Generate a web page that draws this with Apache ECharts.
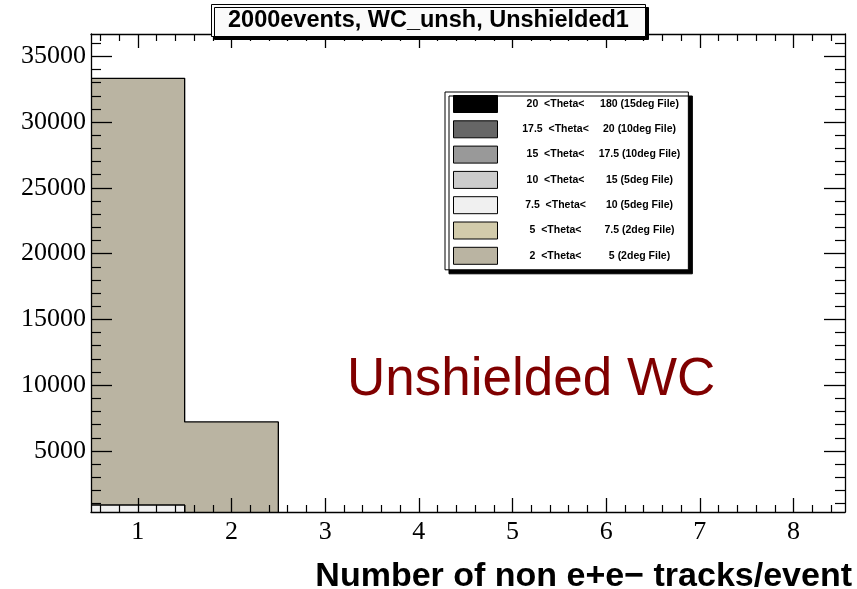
<!DOCTYPE html>
<html>
<head>
<meta charset="utf-8">
<title>2000events, WC_unsh, Unshielded1</title>
<script src="https://cdn.jsdelivr.net/npm/echarts@6/dist/echarts.min.js"></script>
<style>
  html, body { margin: 0; padding: 0; background: #ffffff; }
  #chart { width: 857px; height: 589px; }
</style>
</head>
<body>
<div id="chart"></div>
<script>
// Track multiplicity per event, stacked by polar-angle range.
// Bin centres (bins are one unit wide).
const binCenters = [1, 2, 3, 4, 5, 6, 7, 8];

// Per-range contents, listed in stacking order from bottom to top.
const theta20to180 = [0, 0, 0, 0, 0, 0, 0, 0];
const theta17p5to20 = [0, 0, 0, 0, 0, 0, 0, 0];
const theta15to17p5 = [0, 0, 0, 0, 0, 0, 0, 0];
const theta10to15 = [0, 0, 0, 0, 0, 0, 0, 0];
const theta7p5to10 = [890, 0, 0, 0, 0, 0, 0, 0];
const theta5to7p5 = [0, 0, 0, 0, 0, 0, 0, 0];
const theta2to5 = [32440, 7210, 0, 0, 0, 0, 0, 0];

// Legend texts (angle range, source file)
const rangeLabels = ['20  <Theta<', '17.5  <Theta<', '15  <Theta<', '10  <Theta<', '7.5  <Theta<', '5  <Theta<', '2  <Theta<'];
const fileLabels = ['180 (15deg File)', '20 (10deg File)', '17.5 (10deg File)', '15 (5deg File)', '10 (5deg File)', '7.5 (2deg File)', '5 (2deg File)'];

// Axis tick positions
const xMajorTicks = [1, 2, 3, 4, 5, 6, 7, 8];
const xMinorTicks = [0.6, 0.8, 1.2, 1.4, 1.6, 1.8, 2.2, 2.4, 2.6, 2.8, 3.2, 3.4, 3.6, 3.8,
  4.2, 4.4, 4.6, 4.8, 5.2, 5.4, 5.6, 5.8, 6.2, 6.4, 6.6, 6.8, 7.2, 7.4, 7.6, 7.8, 8.2, 8.4];
const yMajorTicks = [5000, 10000, 15000, 20000, 25000, 30000, 35000];
const yMinorTicks = [1000, 2000, 3000, 4000, 6000, 7000, 8000, 9000, 11000, 12000, 13000, 14000,
  16000, 17000, 18000, 19000, 21000, 22000, 23000, 24000, 26000, 27000, 28000, 29000,
  31000, 32000, 33000, 34000, 36000];

const layers = [
  { name: rangeLabels[0], file: fileLabels[0], values: theta20to180, color: '#000000' },
  { name: rangeLabels[1], file: fileLabels[1], values: theta17p5to20, color: '#666666' },
  { name: rangeLabels[2], file: fileLabels[2], values: theta15to17p5, color: '#999999' },
  { name: rangeLabels[3], file: fileLabels[3], values: theta10to15, color: '#cccccc' },
  { name: rangeLabels[4], file: fileLabels[4], values: theta7p5to10, color: '#f0f0f0' },
  { name: rangeLabels[5], file: fileLabels[5], values: theta5to7p5, color: '#d2cbab' },
  { name: rangeLabels[6], file: fileLabels[6], values: theta2to5, color: '#bab4a2' }
];

// Cumulative totals: each layer is painted as the sum of itself and everything below it.
const cumulative = [];
layers.forEach(function (layer, i) {
  cumulative.push(layer.values.map(function (v, b) {
    return v + (i > 0 ? cumulative[i - 1][b] : 0);
  }));
});

// Step outline points: [lowEdge, content] for each bin, then the last high edge.
function stepPoints(sums) {
  const pts = binCenters.map(function (c, b) { return [c - 0.5, sums[b]]; });
  const last = binCenters.length - 1;
  pts.push([binCenters[last] + 0.5, sums[last]]);
  return pts;
}

const Y_MIN = 360;
const Y_MAX = 36700;

// Draw the full stack first, then each lower partial sum over it.
const series = [];
for (let i = layers.length - 1; i >= 0; i--) {
  series.push({
    type: 'line',
    name: layers[i].name,
    step: 'end',
    showSymbol: false,
    symbol: 'none',
    clip: true,
    color: layers[i].color,
    itemStyle: { color: layers[i].color },
    lineStyle: { color: '#000', width: 1.3 },
    areaStyle: { color: layers[i].color, opacity: 1 },
    data: stepPoints(cumulative[i]),
    z: 2 + (layers.length - i)
  });
}

const fileByName = {};
layers.forEach(function (l) { fileByName[l.name] = l.file; });

const serifLabel = { fontFamily: 'Liberation Serif', fontSize: 26, color: '#000' };
const frameLine = { show: true, lineStyle: { color: '#000', width: 1.3 } };
const plainNumber = function (v) { return String(v); };
const AXIS_Z = 11;

const option = {
  animation: false,
  backgroundColor: '#ffffff',
  title: {
    text: '2000events, WC_unsh, Unshielded1',
    left: 211,
    top: 5,
    padding: [4, 17, 4, 17],
    backgroundColor: '#fafafa',
    borderColor: '#000',
    borderWidth: 1,
    shadowColor: '#000',
    shadowBlur: 0,
    shadowOffsetX: 3,
    shadowOffsetY: 3,
    textStyle: { fontFamily: 'Liberation Sans', fontWeight: 'bold', fontSize: 23.5, lineHeight: 23, color: '#000' },
    z: 20
  },
  legend: {
    orient: 'vertical',
    left: 445,
    top: 92,
    padding: [3, 8, 5, 8],
    itemWidth: 44,
    itemHeight: 17,
    itemGap: 7.3,
    icon: 'rect',
    itemStyle: { borderColor: '#000', borderWidth: 1 },
    backgroundColor: '#ffffff',
    borderColor: '#000',
    borderWidth: 1,
    shadowColor: '#000',
    shadowBlur: 0,
    shadowOffsetX: 4,
    shadowOffsetY: 4,
    selectedMode: false,
    data: layers.map(function (l) { return { name: l.name, itemStyle: { color: l.color } }; }),
    formatter: function (name) { return '{a|' + name + '}{b|' + fileByName[name] + '}'; },
    textStyle: {
      fontFamily: 'Liberation Sans',
      fontWeight: 'bold',
      fontSize: 10.5,
      color: '#000',
      rich: {
        a: { width: 106, align: 'center', fontFamily: 'Liberation Sans', fontWeight: 'bold', fontSize: 10.5 },
        b: { width: 62, align: 'center', fontFamily: 'Liberation Sans', fontWeight: 'bold', fontSize: 10.5 }
      }
    },
    z: 14
  },
  grid: { left: 91, right: 12, top: 34, bottom: 77, containLabel: false, outerBoundsMode: 'none' },
  xAxis: [
    {
      type: 'value', position: 'bottom', min: 0.5, max: 8.55, z: AXIS_Z,
      axisLine: frameLine, splitLine: { show: false },
      axisTick: { show: true, inside: true, length: 14, customValues: xMajorTicks, lineStyle: { color: '#000', width: 1.3 } },
      axisLabel: { show: true, customValues: xMajorTicks, margin: 7, formatter: plainNumber, ...serifLabel },
      name: 'Number of non e+e\u2212 tracks/event',
      nameLocation: 'end', nameGap: 7,
      nameTextStyle: { fontFamily: 'Liberation Sans', fontWeight: 'bold', fontSize: 34, color: '#000', align: 'right', verticalAlign: 'top', padding: [48, 0, 0, 0] }
    },
    {
      type: 'value', position: 'bottom', min: 0.5, max: 8.55, z: AXIS_Z,
      axisLine: { show: false }, splitLine: { show: false }, axisLabel: { show: false },
      axisTick: { show: true, inside: true, length: 7, customValues: xMinorTicks, lineStyle: { color: '#000', width: 1.2 } }
    },
    {
      type: 'value', position: 'top', min: 0.5, max: 8.55, z: AXIS_Z,
      axisLine: frameLine, splitLine: { show: false }, axisLabel: { show: false },
      axisTick: { show: true, inside: true, length: 14, customValues: xMajorTicks, lineStyle: { color: '#000', width: 1.3 } }
    },
    {
      type: 'value', position: 'top', min: 0.5, max: 8.55, z: AXIS_Z,
      axisLine: { show: false }, splitLine: { show: false }, axisLabel: { show: false },
      axisTick: { show: true, inside: true, length: 7, customValues: xMinorTicks, lineStyle: { color: '#000', width: 1.2 } }
    }
  ],
  yAxis: [
    {
      type: 'value', position: 'left', min: Y_MIN, max: Y_MAX, z: AXIS_Z,
      axisLine: frameLine, splitLine: { show: false },
      axisTick: { show: true, inside: true, length: 21, customValues: yMajorTicks, lineStyle: { color: '#000', width: 1.3 } },
      axisLabel: { show: true, customValues: yMajorTicks, margin: 5, formatter: plainNumber, ...serifLabel }
    },
    {
      type: 'value', position: 'left', min: Y_MIN, max: Y_MAX, z: AXIS_Z,
      axisLine: { show: false }, splitLine: { show: false }, axisLabel: { show: false },
      axisTick: { show: true, inside: true, length: 10, customValues: yMinorTicks, lineStyle: { color: '#000', width: 1.2 } }
    },
    {
      type: 'value', position: 'right', min: Y_MIN, max: Y_MAX, z: AXIS_Z,
      axisLine: frameLine, splitLine: { show: false }, axisLabel: { show: false },
      axisTick: { show: true, inside: true, length: 21, customValues: yMajorTicks, lineStyle: { color: '#000', width: 1.3 } }
    },
    {
      type: 'value', position: 'right', min: Y_MIN, max: Y_MAX, z: AXIS_Z,
      axisLine: { show: false }, splitLine: { show: false }, axisLabel: { show: false },
      axisTick: { show: true, inside: true, length: 10, customValues: yMinorTicks, lineStyle: { color: '#000', width: 1.2 } }
    }
  ],
  graphic: [
    {
      type: 'text',
      left: 347,
      top: 354,
      z: 15,
      style: { text: 'Unshielded WC', fill: '#800000', font: '53px "Liberation Sans", Arial, sans-serif' }
    }
  ],
  series: series
};

const chart = echarts.init(document.getElementById('chart'), null, { renderer: 'canvas' });
chart.setOption(option);
</script>
</body>
</html>
